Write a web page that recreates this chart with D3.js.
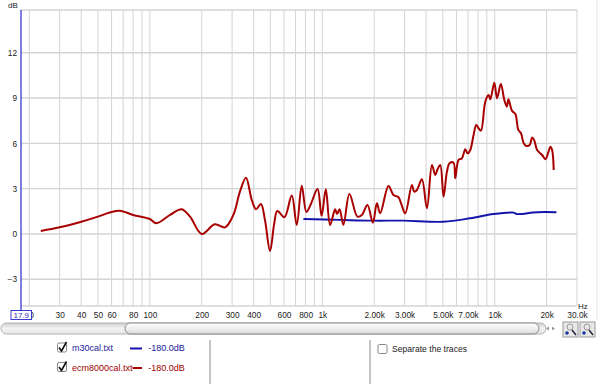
<!DOCTYPE html>
<html><head><meta charset="utf-8">
<script src="https://cdnjs.cloudflare.com/ajax/libs/d3/7.8.5/d3.min.js"></script>
<style>body{margin:0;background:#fff;}svg{display:block;font-family:"Liberation Sans",Arial,sans-serif;}</style>
</head><body>
<svg id="c" width="600" height="384"></svg>
<script>
// ---- data ----
const redFreq = [23.3,30,40,50,58.6,67,80,100,109,131,153,171,200,238,273,305,333,361,390,413,441,465,498,525,549,603,665,711,760,809,858,939,991,1048,1110,1187,1219,1260,1326,1437,1599,1696,1828,1965,2073,2167,2420,2587,2767,2869,3026,3309,3413,3538,3782,4045,4325,4520,4661,4832,5050,5284,5471,5771,5904,6170,6457,6748,6958,7214,7540,7818,8063,8325,8818,9217,9428,9947,10310,10850,11370,11760,12000,12610,13170,13710,14210,14720,15260,15950,16470,16980,17610,18830,19680,20480,21030,21520,21980];
const redDb = [0.2,0.44,0.81,1.15,1.42,1.54,1.26,0.99,0.71,1.26,1.64,1.15,0.0,0.64,0.44,1.26,2.8,3.73,2.25,1.64,1.99,0.93,-1.13,0.6,1.52,1.11,2.54,0.6,3.2,1.46,1.97,2.98,1.2,2.96,0.6,1.64,1.32,1.64,0.6,2.65,1.15,1.26,1.92,0.75,2.03,1.37,3.18,2.58,2.43,1.99,1.37,3.25,2.8,2.91,3.62,1.7,4.57,3.91,4.28,4.57,2.47,4.13,4.68,4.72,3.69,4.9,5.01,5.61,5.34,5.56,6.56,7.22,7.0,6.84,8.76,9.2,8.92,10.02,8.99,9.93,8.87,8.43,8.92,8.15,7.95,6.89,6.67,6.01,5.83,5.89,6.38,6.18,5.56,5.23,4.95,5.43,5.78,5.56,4.24];
const blueFreq = [777,1269,1972,2958,5050,7214,9853,12880,13370,17610,22790];
const blueDb = [0.99,0.93,0.88,0.88,0.81,1.04,1.32,1.41,1.32,1.44,1.44];
const xGrid = [20,30,40,50,60,70,80,90,100,200,300,400,500,600,700,800,900,1000,2000,3000,4000,5000,6000,7000,8000,9000,10000,20000,30000];
const xTickValues = [30,40,50,60,80,100,200,300,400,600,800,1000,2000,3000,5000,7000,10000,20000,30000];
const xTickLabels = ["30","40","50","60","80","100","200","300","400","600","800","1k","2.00k","3.00k","5.00k","7.00k","10k","20k","30.0k"];
const hiddenTick = 20, hiddenTickLabel = "20";
const yTickValues = [-3,0,3,6,9,12];
const seriesNames = ["m30cal.txt","ecm8000cal.txt"];
const seriesLevels = ["-180.0dB","-180.0dB"];

// ---- layout ----
const L = 21, R = 577, T = 10, B = 306;
const RED = "#a80000", BLUE = "#1414aa";
const svg = d3.select("#c");
const x = d3.scaleLog().domain([17.9, 30000]).range([L, R]);
const y = d3.scaleLinear().domain([-4.77, 14.83]).range([B, T]);

// grid
const g = svg.append("g");
g.selectAll("line.v").data(xGrid).join("line")
  .attr("x1", d => x(d)).attr("x2", d => x(d)).attr("y1", T).attr("y2", B)
  .attr("stroke", "#d4d4d4").attr("stroke-width", 1);
g.selectAll("line.h").data(yTickValues.concat([-4.77, 14.83])).join("line")
  .attr("x1", L).attr("x2", R).attr("y1", d => y(d)).attr("y2", d => y(d))
  .attr("stroke", "#d4d4d4").attr("stroke-width", 1.4);
// window edge line
svg.append("line").attr("x1", 597).attr("x2", 597).attr("y1", 0).attr("y2", 320)
  .attr("stroke", "#e4e4e4");

// axes via d3 axis, styled
const xAxis = d3.axisBottom(x).tickValues(xTickValues)
  .tickFormat((d, i) => xTickLabels[i]).tickSize(0).tickPadding(0);
const xg = svg.append("g").attr("transform", `translate(0,${B + 6})`).call(xAxis);
xg.select(".domain").remove();
xg.selectAll("text").attr("font-size", 8.3).attr("fill", "#222").attr("dy", "0.71em")
  .attr("font-family", "Liberation Sans, Arial, sans-serif");

// partially hidden "20" label (only its right part peeks out past the start box)
svg.append("defs").append("clipPath").attr("id", "clip20")
  .append("rect").attr("x", 32).attr("y", 300).attr("width", 20).attr("height", 30);
svg.append("text").attr("clip-path", "url(#clip20)")
  .attr("x", x(hiddenTick)).attr("y", B + 6).attr("dy", "0.71em").attr("text-anchor", "middle")
  .attr("font-size", 8.3).attr("fill", "#222").text(hiddenTickLabel);

const yAxis = d3.axisLeft(y).tickValues(yTickValues).tickSize(0).tickPadding(0);
const yg = svg.append("g").attr("transform", `translate(${L - 4},0)`).call(yAxis);
yg.select(".domain").remove();
yg.selectAll("text").attr("font-size", 8.3).attr("fill", "#222")
  .attr("font-family", "Liberation Sans, Arial, sans-serif");

svg.append("text").attr("x", 8).attr("y", 8).attr("font-size", 8).attr("fill", "#222").text("dB");
svg.append("text").attr("x", 578).attr("y", 309).attr("font-size", 8).attr("fill", "#222").text("Hz");

// left axis line
svg.append("line").attr("x1", L).attr("x2", L).attr("y1", T).attr("y2", 311)
  .attr("stroke", "#3a3ad0").attr("stroke-width", 1.3);
// start-frequency box
svg.append("rect").attr("x", 11).attr("y", 310.5).attr("width", 20.5).attr("height", 9)
  .attr("fill", "#fff").attr("stroke", "#3a3ad0").attr("stroke-width", 1);
svg.append("text").attr("x", 21.3).attr("y", 318.3).attr("text-anchor", "middle")
  .attr("font-size", 8).attr("fill", "#2a2ac0").text("17.9");

// traces
const line = d3.line().x(d => x(d[0])).y(d => y(d[1])).curve(d3.curveCatmullRom.alpha(0.5));
svg.append("path").datum(blueFreq.map((f, i) => [f, blueDb[i]]))
  .attr("d", line).attr("fill", "none").attr("stroke", BLUE).attr("stroke-width", 1.9);
svg.append("path").datum(redFreq.map((f, i) => [f, redDb[i]]))
  .attr("d", line).attr("fill", "none").attr("stroke", RED).attr("stroke-width", 2)
  .attr("stroke-linejoin", "round");

// scrollbar
const defs = svg.append("defs");
const gr = defs.append("linearGradient").attr("id", "thumb").attr("x1", 0).attr("x2", 0).attr("y1", 0).attr("y2", 1);
gr.append("stop").attr("offset", "0").attr("stop-color", "#fdfdfd");
gr.append("stop").attr("offset", "0.6").attr("stop-color", "#ececec");
gr.append("stop").attr("offset", "1").attr("stop-color", "#d8d8d8");
const gt = defs.append("linearGradient").attr("id", "track").attr("x1", 0).attr("x2", 0).attr("y1", 0).attr("y2", 1);
gt.append("stop").attr("offset", "0").attr("stop-color", "#cfcfcf");
gt.append("stop").attr("offset", "0.5").attr("stop-color", "#f2f2f2");
gt.append("stop").attr("offset", "1").attr("stop-color", "#e6e6e6");
svg.append("rect").attr("x", 1).attr("y", 323).attr("width", 545).attr("height", 11).attr("rx", 5.5)
  .attr("fill", "url(#track)").attr("stroke", "#b0b0b0");
svg.append("rect").attr("x", 125).attr("y", 323).attr("width", 414).attr("height", 11).attr("rx", 5.5)
  .attr("fill", "url(#thumb)").attr("stroke", "#8a8a8a");
svg.append("path").attr("d", "M546,328.5 l3,-2 v4 z M555,328.5 l-3,-2 v4 z").attr("fill", "#9a9a9a");
[563, 580].forEach(bx => {
  svg.append("rect").attr("x", bx).attr("y", 322).attr("width", 15).attr("height", 15)
    .attr("fill", "#e8e8e8").attr("stroke", "#9a9a9a");
  svg.append("circle").attr("cx", bx + 7).attr("cy", 327).attr("r", 3)
    .attr("fill", "none").attr("stroke", "#999");
  svg.append("circle").attr("cx", bx + 4).attr("cy", 333).attr("r", 1.8).attr("fill", "#1a3aa0");
  svg.append("line").attr("x1", bx + 9).attr("y1", 330).attr("x2", bx + 13).attr("y2", 335)
    .attr("stroke", "#223").attr("stroke-width", 1.5);
});

// separators
svg.append("line").attr("x1", 210).attr("x2", 210).attr("y1", 340).attr("y2", 384).attr("stroke", "#8a8a8a");
svg.append("line").attr("x1", 370).attr("x2", 370).attr("y1", 340).attr("y2", 384).attr("stroke", "#8a8a8a");

// legend
function checkbox(cx, cy, checked) {
  svg.append("rect").attr("x", cx).attr("y", cy).attr("width", 9).attr("height", 9).attr("rx", 1.5)
    .attr("fill", "#fff").attr("stroke", "#888");
  if (checked) svg.append("path").attr("d", `M${cx + 1.5},${cy + 4.5} l2.5,3.5 l5,-9`)
    .attr("fill", "none").attr("stroke", "#111").attr("stroke-width", 1.6);
}
const legColors = [BLUE, RED];
const legText = ["#1a1a9a", "#a00000"];
seriesNames.forEach((n, i) => {
  const yy = 351 + i * 19.5;
  checkbox(57.5, yy - 8, true);
  svg.append("text").attr("x", 72).attr("y", yy).attr("font-size", 9).attr("fill", legText[i]).text(n);
  svg.append("line").attr("x1", i ? 132.5 : 130).attr("x2", 142).attr("y1", yy - 2.5).attr("y2", yy - 2.5)
    .attr("stroke", legColors[i]).attr("stroke-width", 2);
  svg.append("text").attr("x", 148.3).attr("y", yy).attr("font-size", 9).attr("fill", legText[i]).text(seriesLevels[i]);
});
checkbox(378, 344.5, false);
svg.append("text").attr("x", 392).attr("y", 352).attr("font-size", 8.6).attr("fill", "#222").text("Separate the traces");
</script>
</body></html>
